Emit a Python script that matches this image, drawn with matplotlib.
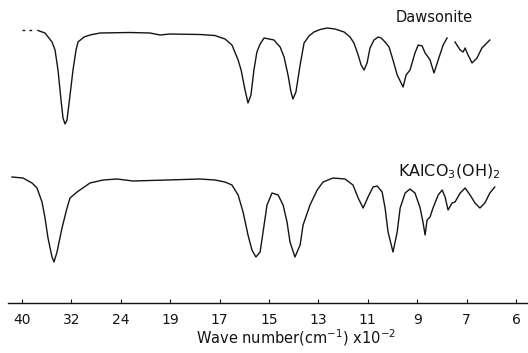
import matplotlib
matplotlib.use("Agg")
import matplotlib.pyplot as plt
import numpy as np

# wave number axis (x 10^2 cm^-1), ticks are evenly spaced on the chart paper
tick_vals = [40, 32, 24, 19, 17, 15, 13, 11, 9, 7, 6]

# Dawsonite spectrum (wave number, transmittance)
daw_dash_w = [40.0, 37.73]
daw_dash_t = [98, 98]
daw_w = [37.41, 36.27, 35.14, 34.65, 34.17, 33.68, 33.36, 33.03, 32.71, 32.22,
         31.74, 31.25, 30.93, 29.96, 28.99, 27.37, 23.07, 21.04, 20.03, 19.02,
         17.79, 17.19, 16.78, 16.50, 16.25, 16.13, 15.97, 15.85, 15.73, 15.61,
         15.49, 15.36, 15.20, 14.80, 14.55, 14.39, 14.23, 14.11, 14.03, 13.91,
         13.74, 13.58, 13.38, 13.18, 12.93, 12.65, 12.33, 11.96, 11.72, 11.56,
         11.39, 11.27, 11.15, 11.03, 10.91, 10.75, 10.58, 10.46, 10.30, 10.14,
         9.98, 9.81, 9.57, 9.45, 9.29, 9.09, 8.96, 8.80, 8.68, 8.56,
         8.48, 8.32, 8.15, 7.95, 7.79]
daw_t = [97.5, 95, 86, 78, 58, 28, 10, 4, 8, 33,
         58, 78, 86, 91, 93, 95, 95.5, 95, 93, 94,
         93.5, 92.5, 89, 83, 68, 58, 38, 25, 33, 58,
         76, 84, 90, 88, 81, 71, 53, 36, 29, 36,
         63, 85, 92, 96, 98.5, 100, 99, 96, 91, 85,
         73, 63, 58, 65, 80, 88, 91, 90, 86, 81,
         68, 53, 41, 53, 58, 75, 83, 82, 75, 71,
         68, 55, 68, 83, 90]
daw2_w = [7.47, 7.26, 7.14, 7.06, 6.99, 6.89, 6.79, 6.69, 6.53]
daw2_t = [86, 78, 76, 80, 75, 65, 70, 80, 88]

# KAlCO3(OH)2 spectrum
kal_w = [41.62, 39.84, 38.38, 37.57, 36.76, 36.27, 35.79, 35.14, 34.82, 34.33,
         33.52, 32.71, 32.22, 31.09, 28.99, 26.88, 24.61, 22.77, 19.32, 17.79,
         17.19, 16.78, 16.50, 16.25, 16.05, 15.85, 15.69, 15.53, 15.36, 15.24,
         15.08, 14.88, 14.63, 14.43, 14.27, 14.15, 13.95, 13.74, 13.62, 13.34,
         13.05, 12.81, 12.41, 11.92, 11.60, 11.39, 11.19, 10.99, 10.79, 10.62,
         10.42, 10.30, 10.18, 9.98, 9.81, 9.69, 9.49, 9.29, 9.09, 8.88,
         8.76, 8.68, 8.60, 8.48, 8.36, 8.15, 7.99, 7.87, 7.75, 7.59,
         7.47, 7.26, 7.06, 6.93, 6.83, 6.73, 6.63, 6.53, 6.43]
kal_t = [101, 100, 95, 90, 76, 60, 40, 21, 16, 26,
         50, 70, 80, 86, 95, 98, 99, 97, 98, 99,
         98, 96, 93, 83, 66, 43, 28, 21, 26, 46,
         73, 85, 83, 73, 56, 36, 21, 33, 53, 73,
         88, 96, 100, 99, 93, 80, 70, 81, 91, 92,
         86, 70, 46, 26, 46, 70, 85, 89, 85, 70,
         55, 43, 58, 61, 70, 83, 88, 81, 68, 75,
         76, 85, 90, 83, 75, 70, 75, 85, 91]

daw_offset = 175
kal_offset = 25

tick_idx = np.arange(len(tick_vals))
wv = np.array(tick_vals[::-1], dtype=float)
ps = tick_idx[::-1].astype(float)


def to_pos(w):
    w = np.asarray(w, dtype=float)
    p = np.interp(w, wv, ps)
    # extend the 40-32 scale beyond the first tick
    p = np.where(w > 40, -(w - 40) / 8.0, p)
    return p


fig = plt.figure(figsize=(5.28, 3.53), dpi=100)
ax = fig.add_axes([0, 50 / 353, 1, 303 / 353])
ink = "#141414"

ax.plot(to_pos(daw_dash_w), np.array(daw_dash_t) + daw_offset, color=ink,
        lw=1.0, ls=(0, (2, 3)))
ax.plot(to_pos(daw_w), np.array(daw_t) + daw_offset, color=ink, lw=1.0)
ax.plot(to_pos(daw2_w), np.array(daw2_t) + daw_offset, color=ink, lw=1.0)
ax.plot(to_pos(kal_w), np.array(kal_t) + kal_offset, color=ink, lw=1.0)

ax.set_xlim(-22 / 49.4, (528 - 22) / 49.4)
ax.set_ylim(0, 303)

for s in ["top", "left", "right"]:
    ax.spines[s].set_visible(False)
ax.spines["bottom"].set_bounds(-14 / 49.4, (528 - 22) / 49.4)
ax.spines["bottom"].set_linewidth(1.0)
ax.spines["bottom"].set_color(ink)

ax.set_xticks(tick_idx)
ax.set_xticklabels([str(v) for v in tick_vals])
ax.tick_params(axis="x", direction="in", length=3, width=0.8, pad=7,
               labelsize=10, colors=ink)
ax.set_yticks([])

ax.text(to_pos(8.3), 303 - 18, "Dawsonite", ha="center", va="center",
        fontsize=10.5, color=ink)
ax.text(to_pos(7.71), 303 - 172, r"KAlCO$_3$(OH)$_2$", ha="center", va="center",
        fontsize=11.5, color=ink)

fig.text(296 / 528, 1 - 338 / 353, r"Wave number(cm$^{-1}$) x10$^{-2}$",
         ha="center", va="center", fontsize=10.5, color=ink)

fig.savefig("out.png", dpi=100)
